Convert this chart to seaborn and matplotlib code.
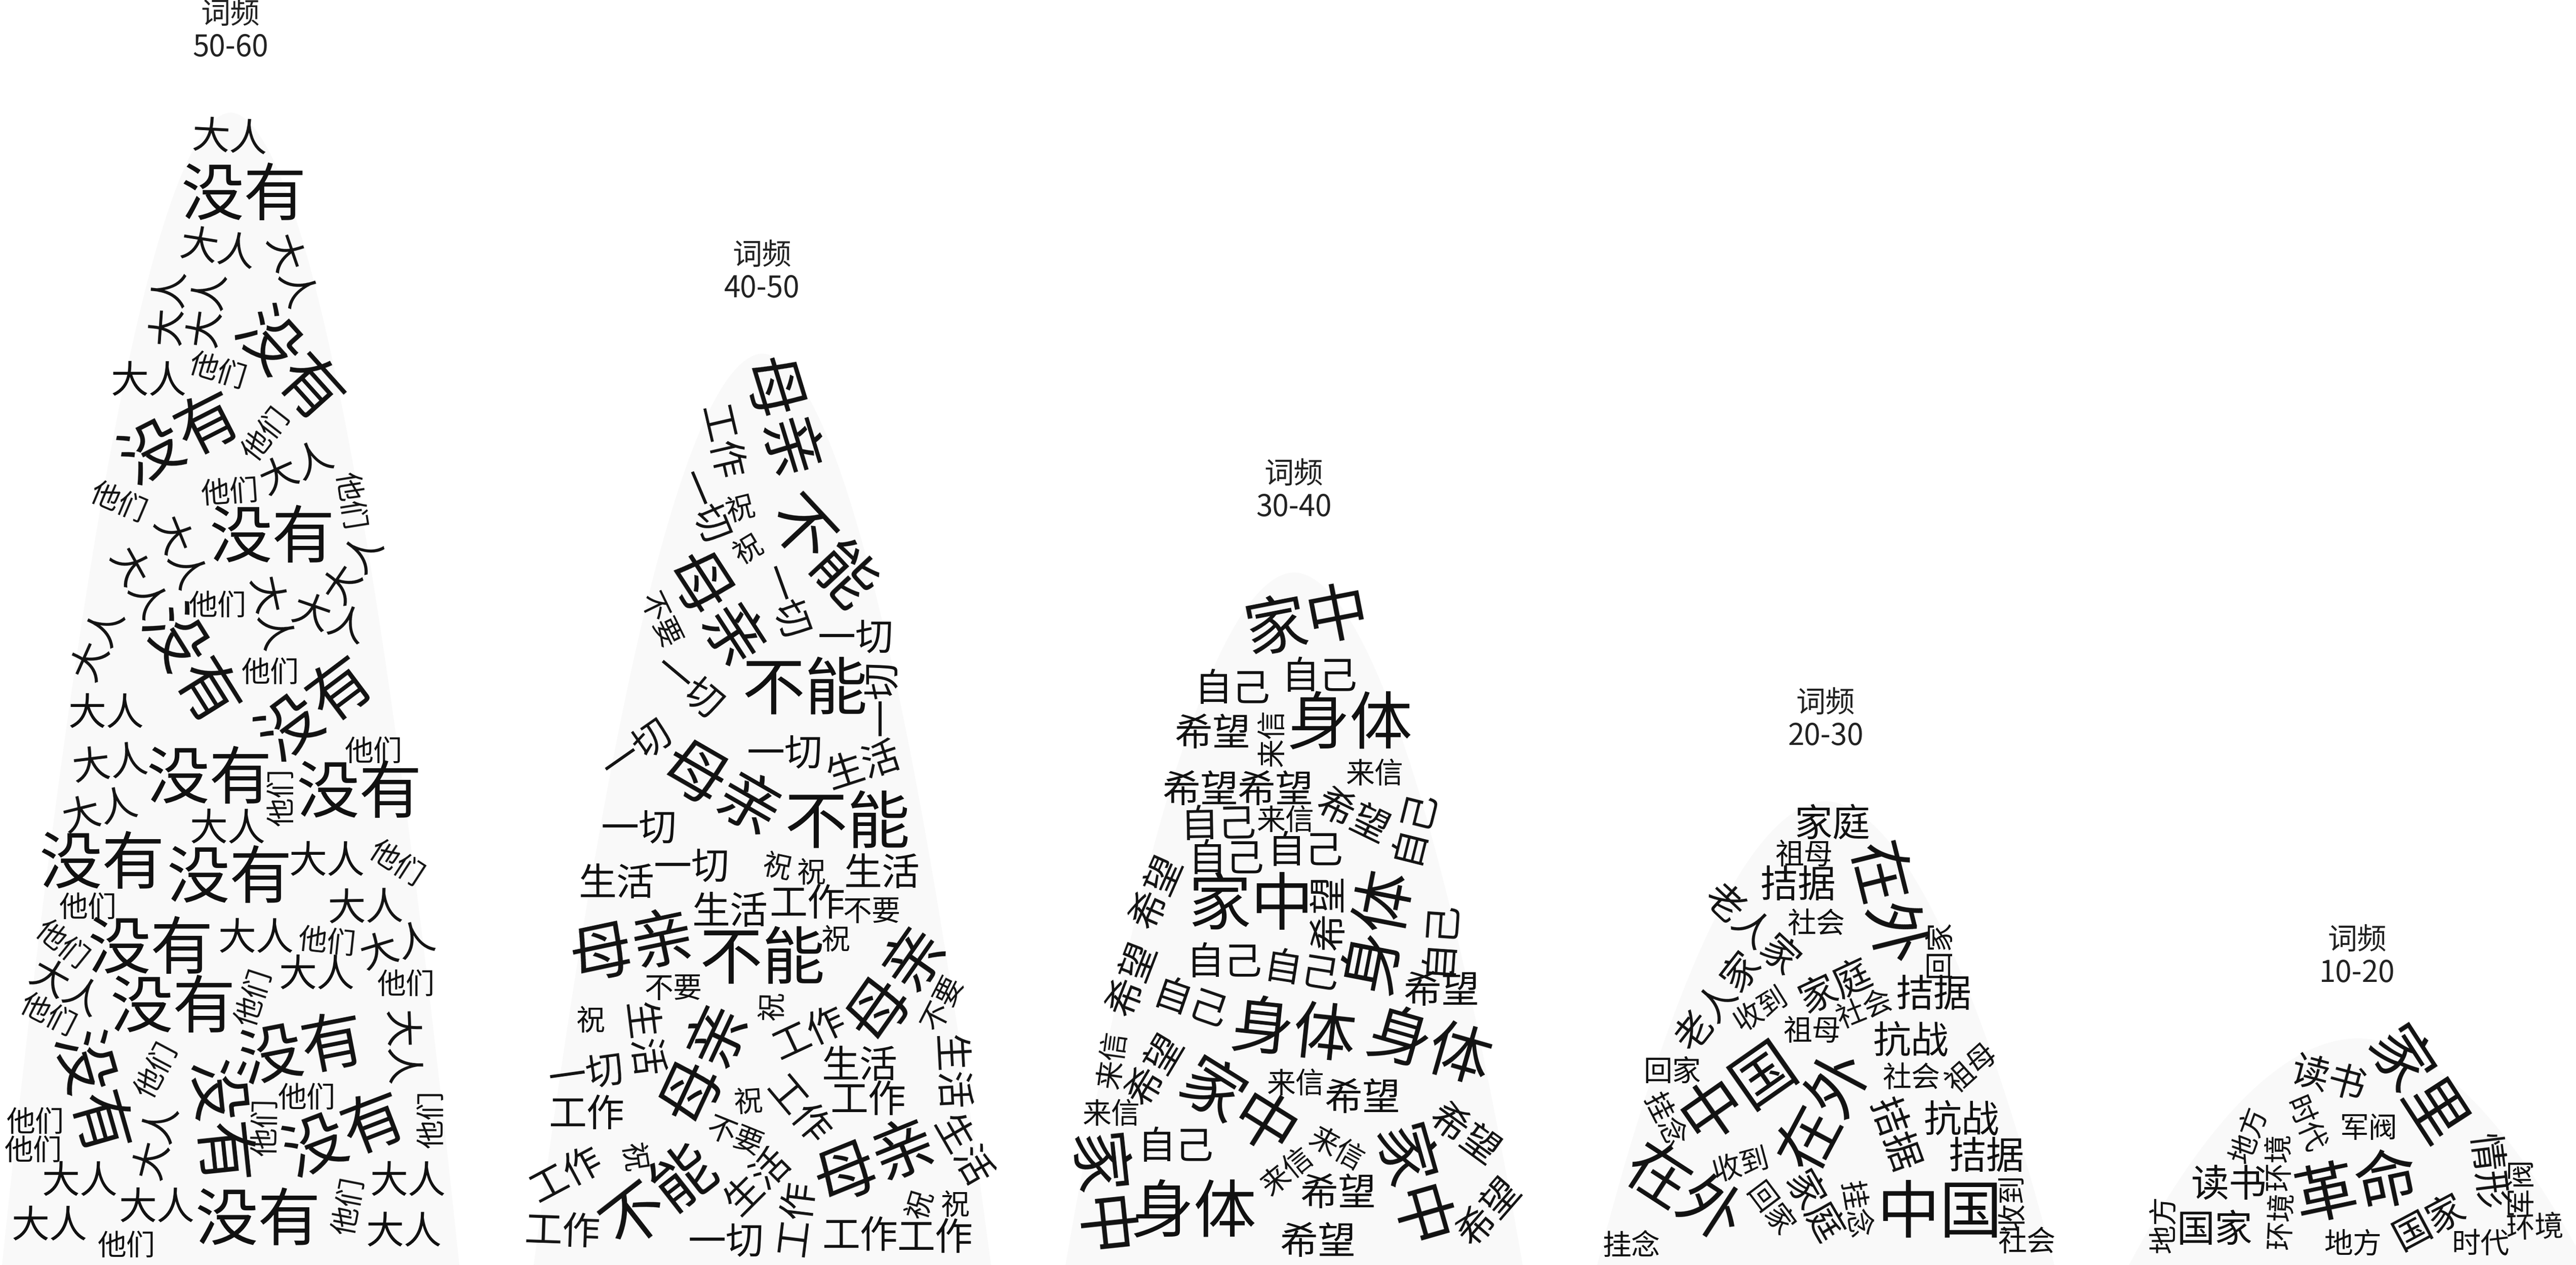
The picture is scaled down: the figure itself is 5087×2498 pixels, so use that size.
import numpy as np
import matplotlib
matplotlib.use("Agg")
import matplotlib.pyplot as plt
import seaborn as sns

# frequency bands, one mound per band
bands = ["50-60", "40-50", "30-40", "20-30", "10-20"]
# height of each mound
peaks = [56.9, 45.0, 34.2, 22.9, 11.2]

# words of each band, size tier (3 big, 2 medium, 1 small) and how often they show up
words_50 = ["没有", "大人", "他们"]
tier_50 = [3, 2, 1]
count_50 = [17, 30, 30]

words_40 = ["不能", "母亲", "一切", "生活", "工作", "祝", "不要"]
tier_40 = [3, 3, 2, 2, 2, 1, 1]
count_40 = [5, 7, 11, 9, 11, 7, 1]

words_30 = ["身体", "家中", "希望", "自己", "来信"]
tier_30 = [3, 3, 2, 2, 1]
count_30 = [5, 5, 14, 11, 12]

words_20 = ["在外", "中国", "抗战", "拮据", "家庭", "老人家", "祖母", "社会", "挂念", "收到", "回家"]
tier_20 = [3, 3, 2, 2, 2, 2, 1, 1, 1, 1, 1]
count_20 = [3, 2, 2, 4, 3, 2, 4, 4, 4, 4, 3]

words_10 = ["革命", "家里", "国家", "读书", "情形", "地方", "环境", "时代", "军阀"]
tier_10 = [3, 3, 2, 2, 2, 1, 1, 1, 1]
count_10 = [1, 1, 2, 2, 1, 2, 3, 2, 2]

groups = [
    (words_50, tier_50, count_50),
    (words_40, tier_40, count_40),
    (words_30, tier_30, count_30),
    (words_20, tier_20, count_20),
    (words_10, tier_10, count_10),
]

# layout
FIG_W, FIG_H, DPI = 5087, 2498, 100
X0, STEP = 455, 1050      # px of first mound centre, px between mounds
YPX = 40                  # px per height unit
HALF = 0.43               # mound half width in category units
EXPO = 1.9                # mound profile: y = peak * (1 - |x|^EXPO)
SIZE_PX = {3: 124, 2: 75, 1: 57}
CELL = 4
GW, GH = int(np.ceil(FIG_W / CELL)), int(np.ceil(FIG_H / CELL))

sns.set_theme(style="white")
plt.rcParams["font.family"] = ["Noto Sans CJK SC", "DejaVu Sans"]

occ = np.zeros((GH, GW), dtype=bool)
cy_px = (np.arange(GH) + 0.5) * CELL
cx_px = (np.arange(GW) + 0.5) * CELL
CX, CY = np.meshgrid(cx_px, cy_px)


def halton(i, b):
    f, r = 1.0, 0.0
    while i > 0:
        f /= b
        r += f * (i % b)
        i //= b
    return r


def stencil(n, s, ang):
    w, h = n * s * 0.96, s * 0.92
    a = np.deg2rad(ang)
    ex = (abs(w * np.cos(a)) + abs(h * np.sin(a))) / 2
    ey = (abs(w * np.sin(a)) + abs(h * np.cos(a))) / 2
    rx, ry = int(np.ceil(ex / CELL)), int(np.ceil(ey / CELL))
    DX, DY = np.meshgrid(np.arange(-rx, rx + 1) * CELL, np.arange(-ry, ry + 1) * CELL)
    u = DX * np.cos(a) - DY * np.sin(a)
    v = -DX * np.sin(a) - DY * np.cos(a)
    return (np.abs(u) <= w / 2) & (np.abs(v) <= h / 2), rx, ry


def try_place(m, rx, ry, r, c, inside):
    r0, c0 = r - ry, c - rx
    r1, c1 = r0 + m.shape[0], c0 + m.shape[1]
    # keep every word fully on the canvas
    if r0 < 2 or c0 < 2 or r1 > GH - 2 or c1 > GW - 2:
        return False
    sub = occ[r0:r1, c0:c1]
    if (sub & m).any():
        return False
    if (inside[r0:r1, c0:c1] & m).sum() < 0.8 * m.sum():
        return False
    sub |= m
    return True


def angle_for(k):
    if (k * 0.7548776662) % 1 < 0.4:
        return 0
    return int(round(-90 + 180 * ((k * 0.6180339887) % 1)))


placed = []   # (group, word, size px, angle, px, py)
k_glob = 0
for g, (words, tiers, counts) in enumerate(groups):
    cx = X0 + g * STEP
    wpx = HALF * STEP
    hpx = peaks[g] * YPX
    dx = np.abs(CX - cx) / wpx
    inside = (dx < 1) & ((FIG_H - CY) < hpx * (1 - np.clip(dx, 0, 1) ** EXPO))

    n_pts = int(2 * wpx * hpx / 180)
    cands = []
    for k in range(1, n_pts + 1):
        px = cx + (2 * halton(k, 2) - 1) * wpx
        py = FIG_H - halton(k, 3) * hpx
        r, c = int(py / CELL), int(px / CELL)
        if 0 <= r < GH and 0 <= c < GW and inside[r, c]:
            cands.append((r, c))
    L = len(cands)

    # instance list: big first, then medium, then small, words interleaved
    order = []
    for t in (3, 2, 1):
        left = [counts[i] if tiers[i] == t else 0 for i in range(len(words))]
        while sum(left) > 0:
            for i in range(len(words)):
                if left[i] > 0:
                    order.append(i)
                    left[i] -= 1
    # a few extra small ones to close the larger holes
    small = [i for i in range(len(words)) if tiers[i] == min(tiers)]
    order += [small[j % len(small)] for j in range(sum(counts) // 6)]

    p = 0
    for i in order:
        word = words[i]
        s = SIZE_PX[tiers[i]]
        ang0 = angle_for(k_glob)
        k_glob += 1
        done = False
        for ang in (ang0, 0, 90, -45):
            m, rx, ry = stencil(len(word), s, ang)
            for j in range(L):
                idx = (p + j) % L
                r, c = cands[idx]
                if occ[r, c]:
                    continue
                if try_place(m, rx, ry, r, c, inside):
                    placed.append((g, word, s, ang, (c + 0.5) * CELL, (r + 0.5) * CELL))
                    p = idx + 1
                    done = True
                    break
            if done:
                break

fig = plt.figure(figsize=(FIG_W / DPI, FIG_H / DPI), dpi=DPI)
ax = fig.add_axes([0, 0, 1, 1])
ax.set_xlim(-X0 / STEP, (FIG_W - X0) / STEP)
ax.set_ylim(0, FIG_H / YPX)
ax.axis("off")

xs = np.linspace(-HALF, HALF, 600)
for g, pk in enumerate(peaks):
    ax.fill_between(g + xs, 0, pk * (1 - np.abs(xs / HALF) ** EXPO),
                    color="#f9f9f9", lw=0, zorder=1)
    ax.text(g, pk + 4.0, "词频\n" + bands[g], ha="center", va="center",
            fontsize=42, linespacing=1.1, color="#222222", fontweight="light", zorder=3)

for g, word, s, ang, px, py in placed:
    ax.text((px - X0) / STEP, (FIG_H - py) / YPX, word,
            ha="center", va="center", rotation=ang, rotation_mode="anchor",
            fontsize=s * 72 / DPI, color="#111111", fontweight="light", zorder=2)

fig.savefig("out.png", dpi=DPI, facecolor="white")
